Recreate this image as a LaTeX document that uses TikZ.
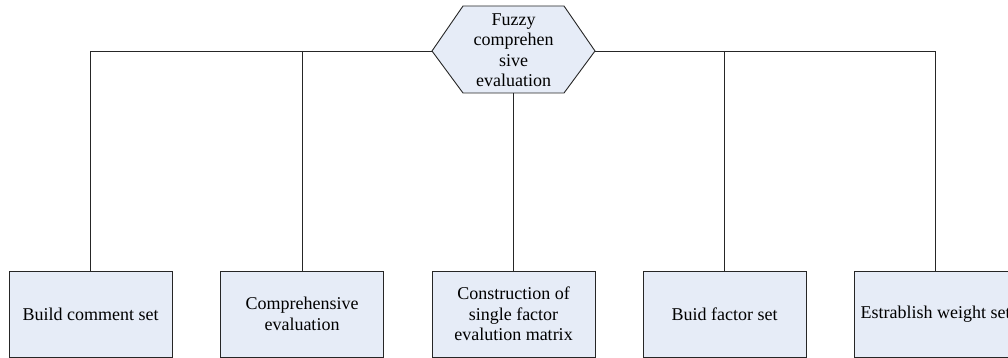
\documentclass[tikz,border=0pt]{standalone}
\usepackage{fontspec}
\setmainfont{Liberation Serif}
\definecolor{boxfill}{HTML}{E6ECF7}
\definecolor{linec}{HTML}{262626}
\begin{document}
\begin{tikzpicture}[x=1pt,y=-1pt,line width=0.9pt,
  txt/.style={font=\fontsize{18}{20.5}\selectfont, align=center, inner sep=1pt},
  box/.style={txt, draw=linec, fill=boxfill, minimum width=163pt, minimum height=86pt},
  conn/.style={draw=linec, line width=0.9pt}]
\useasboundingbox (0,0) rectangle (1008,358);
\node[box] (b1) at (90.5,314) {Build comment set};
\node[box] (b2) at (302,314) {Comprehensive\\evaluation};
\node[box] (b3) at (513.5,314) {Construction of\\single factor\\evalution matrix};
\node[box] (b4) at (724.5,314) {Buid factor set};
\node[box] (b5) at (935.5,314) {Estrablish weight set};
% hexagon
\coordinate (hl) at (432,51);
\coordinate (hr) at (595,51);
\coordinate (htl) at (463,6);
\coordinate (htr) at (564,6);
\coordinate (hbl) at (463,93);
\coordinate (hbr) at (564,93);
\coordinate (hb) at (513.5,93);
\draw[conn, fill=boxfill] (hl) -- (htl) -- (htr) -- (hr) -- (hbr) -- (hbl) -- cycle;
\node[txt] (hex) at (513.5,50) {Fuzzy\\comprehen\\sive\\evaluation};
% connectors
\draw[conn] (hl) -| (b1.north);
\draw[conn] (hr) -| (b5.north);
\coordinate (j2) at (b2.north |- hl);
\coordinate (j4) at (b4.north |- hr);
\draw[conn] (j2) -- (b2.north);
\draw[conn] (j4) -- (b4.north);
\draw[conn] (hb) -- (b3.north);
\end{tikzpicture}
\end{document}
